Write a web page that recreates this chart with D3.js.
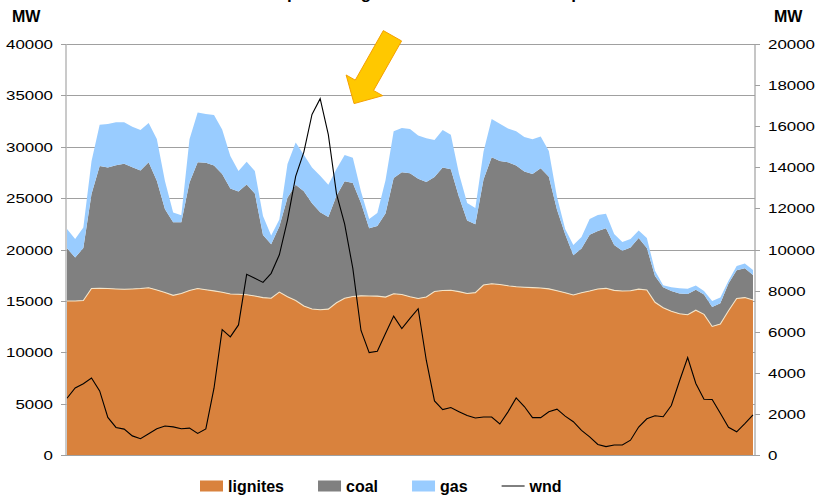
<!DOCTYPE html>
<html>
<head>
<meta charset="utf-8">
<script src="https://cdn.jsdelivr.net/npm/d3@7"></script>
<style>
  body { margin: 0; background: #fff; }
  svg { display: block; font-family: "Liberation Sans", Arial, sans-serif; }
</style>
</head>
<body>
<div id="chart"></div>
<script>
// hourly time axis, one sample every 2 hours over a week
const hours = d3.range(0, 169, 2);

// MW, left axis (stacked)
const lignites = [14990,14990,15040,16200,16220,16200,16160,16130,16160,16200,
  16270,16060,15820,15540,15720,16010,16210,16090,15970,15840,
  15670,15650,15590,15470,15320,15260,15860,15410,15040,14510,
  14210,14130,14200,14820,15260,15430,15490,15480,15460,15370,
  15690,15620,15410,15230,15380,15910,16010,16030,15900,15720,
  15800,16540,16670,16590,16470,16370,16330,16290,16250,16170,
  15980,15790,15570,15790,15960,16160,16220,16020,15960,15980,
  16140,16060,14860,14330,13980,13750,13650,14090,13690,12510,
  12750,14040,15240,15320,15090];
const coal = [5130,4230,5110,9200,11900,11790,12050,12210,11850,11480,
  12210,10630,8100,7110,6920,10510,12270,12360,12210,11500,
  10270,10000,10740,9970,6090,5260,6380,9620,11270,11150,
  10290,9500,8960,10410,11390,11050,9040,6580,6820,8130,
  11270,11890,12020,11650,11200,11140,11980,11770,9210,7110,
  6660,10270,12300,12020,12010,11810,11260,11060,11650,10900,
  7880,5700,3880,4300,5470,5650,5840,4420,3910,4210,
  4980,4090,2570,2000,1980,1960,2010,2000,1930,1900,
  2020,2640,2740,2850,2430];
const gas = [1880,1800,2000,3190,4020,4220,4180,4040,3940,3940,
  3820,4070,2730,940,690,4200,4850,4740,4900,4330,
  3160,2000,2210,2200,1850,850,670,3300,4110,3570,
  3490,3540,3150,2600,2550,2450,1120,900,1280,3240,
  4540,4310,4300,4220,4240,3600,3640,3370,2260,1690,
  1590,2710,3730,3620,3300,3320,3360,3380,3100,2510,
  1250,500,980,1130,1540,1550,1410,1060,860,830,
  720,980,500,200,360,510,510,410,350,580,
  570,280,420,460,490];
// MW, right axis
const wnd = [2760,3260,3470,3750,3120,1830,1340,1260,930,790,
  1030,1280,1410,1370,1280,1310,1050,1270,3250,6100,
  5750,6330,8790,8600,8400,8840,9740,11430,13560,14740,
  16570,17340,15590,12710,11230,9080,6060,4980,5050,5910,
  6760,6150,6650,7120,4600,2630,2210,2310,2110,1920,
  1800,1850,1850,1510,2100,2780,2360,1820,1820,2100,
  2230,1890,1620,1200,880,510,410,490,490,720,
  1360,1760,1910,1860,2410,3600,4740,3480,2710,2700,
  2030,1350,1130,1530,1950];

const leftTicks = [0, 5000, 10000, 15000, 20000, 25000, 30000, 35000, 40000];
const rightTicks = [0, 2000, 4000, 6000, 8000, 10000, 12000, 14000, 16000, 18000, 20000];
const keys = ["lignites", "coal", "gas"];
const title = "Coal output during these hours of the wind peak";

// arrow annotation (hour, left-axis MW)
const arrowTip = { hour: 70.3, mw: 34200 };
const arrowTail = { hour: 79.7, mw: 40800 };

const W = 816, H = 495;
const plot = { left: 67, right: 753, top: 44, bottom: 455 };

const svg = d3.select("#chart").append("svg")
  .attr("width", W)
  .attr("height", H);

const x = d3.scaleLinear().domain([0, 168]).range([plot.left, plot.right]);
const yL = d3.scaleLinear().domain([0, 40000]).range([plot.bottom, plot.top]);
const yR = d3.scaleLinear().domain([0, 20000]).range([plot.bottom, plot.top]);

const color = d3.scaleOrdinal().domain(keys).range(["#D9823D", "#808080", "#99CCFF"]);

// horizontal grid
svg.append("g")
  .selectAll("line")
  .data(leftTicks)
  .join("line")
  .attr("x1", plot.left - 1)
  .attr("x2", plot.right + 2)
  .attr("y1", d => Math.round(yL(d)) + 0.5)
  .attr("y2", d => Math.round(yL(d)) + 0.5)
  .attr("stroke", "#A0A0A0")
  .attr("stroke-width", 1.2);

// stacked areas
const rows = hours.map((h, i) => ({ hour: h, lignites: lignites[i], coal: coal[i], gas: gas[i] }));
const stacked = d3.stack().keys(keys)(rows);

const area = d3.area()
  .x(d => x(d.data.hour))
  .y0(d => yL(d[0]))
  .y1(d => yL(d[1]));

svg.append("g")
  .selectAll("path")
  .data(stacked)
  .join("path")
  .attr("fill", d => color(d.key))
  .attr("d", area);

// light edge on top of lignites
svg.append("path")
  .datum(stacked[0])
  .attr("fill", "none")
  .attr("stroke", "#F4E4C8")
  .attr("stroke-width", 1.1)
  .attr("d", d3.line().x(d => x(d.data.hour)).y(d => yL(d[1])));

// wind line
svg.append("path")
  .datum(wnd)
  .attr("fill", "none")
  .attr("stroke", "#000")
  .attr("stroke-width", 1.1)
  .attr("d", d3.line().x((d, i) => x(hours[i])).y(d => yR(d)));

// axes lines
svg.append("line")
  .attr("x1", plot.left - 1).attr("x2", plot.left - 1)
  .attr("y1", plot.top).attr("y2", plot.bottom)
  .attr("stroke", "#B8B8B8").attr("stroke-width", 1.5);
svg.append("line")
  .attr("x1", plot.right + 2).attr("x2", plot.right + 2)
  .attr("y1", plot.top).attr("y2", plot.bottom)
  .attr("stroke", "#A0A0A0").attr("stroke-width", 1.2);

// left ticks + labels
const lt = svg.append("g").selectAll("g").data(leftTicks).join("g")
  .attr("transform", d => `translate(0, ${Math.round(yL(d)) + 0.5})`);
lt.append("line").attr("x1", plot.left - 6).attr("x2", plot.left - 1).attr("stroke", "#A0A0A0");
lt.append("text")
  .attr("transform", `translate(${plot.left - 14}, 0) scale(1.3, 1)`)
  .attr("text-anchor", "end")
  .attr("dy", "0.35em")
  .style("font-size", "13px")
  .attr("fill", "#000")
  .text(d => d);

// right ticks + labels
const rt = svg.append("g").selectAll("g").data(rightTicks).join("g")
  .attr("transform", d => `translate(0, ${Math.round(yR(d)) + 0.5})`);
rt.append("line").attr("x1", plot.right + 2).attr("x2", plot.right + 7).attr("stroke", "#A0A0A0");
rt.append("text")
  .attr("transform", `translate(${plot.right + 15}, 0) scale(1.3, 1)`)
  .attr("text-anchor", "start")
  .attr("dy", "0.35em")
  .style("font-size", "13px")
  .attr("fill", "#000")
  .text(d => d);

// MW unit labels
svg.append("text").attr("x", 12).attr("y", 22)
  .style("font-size", "16px").style("font-weight", "bold").text("MW");
svg.append("text").attr("x", 774).attr("y", 22)
  .style("font-size", "16px").style("font-weight", "bold").text("MW");

// title: as in the source image, it sits above the top edge and only descenders show
const titleText = svg.append("text")
  .attr("y", -0.8)
  .style("font-size", "17px").style("font-weight", "bold")
  .text(title);
const pIdx = title.indexOf("p");
const pPos = titleText.node().getStartPositionOfChar(pIdx).x;
titleText.attr("x", 287 - pPos);

// arrow annotation
const tip = [x(arrowTip.hour), yL(arrowTip.mw)];
const tail = [x(arrowTail.hour), yL(arrowTail.mw)];
const len = Math.hypot(tip[0] - tail[0], tip[1] - tail[1]);
const u = [(tip[0] - tail[0]) / len, (tip[1] - tail[1]) / len];
const n = [-u[1], u[0]];
const headLen = 21, shaftW = 10.5, headW = 21;
const neck = [tip[0] - u[0] * headLen, tip[1] - u[1] * headLen];
const pt = (p, k) => [p[0] + n[0] * k, p[1] + n[1] * k];
svg.append("path")
  .attr("d", d3.line()([pt(tail, shaftW), pt(neck, shaftW), pt(neck, headW), tip,
    pt(neck, -headW), pt(neck, -shaftW), pt(tail, -shaftW)]) + "Z")
  .attr("fill", "#FFC800")
  .attr("stroke", "#F5A000")
  .attr("stroke-width", 1);

// legend
const legend = svg.append("g").attr("transform", "translate(200, 486)");
let lx = 0;
[...keys, "wnd"].forEach(k => {
  const item = legend.append("g").attr("transform", `translate(${lx}, 0)`);
  if (k === "wnd") {
    item.append("line").attr("x1", 0).attr("x2", 23).attr("y1", 0).attr("y2", 0)
      .attr("stroke", "#000").attr("stroke-width", 1);
  } else {
    item.append("rect").attr("x", 0).attr("y", -5.5).attr("width", 23).attr("height", 11)
      .attr("fill", color(k));
  }
  const t = item.append("text").attr("x", 28).attr("dy", "0.36em")
    .style("font-size", "16px").style("font-weight", "bold").text(k);
  lx += 28 + t.node().getComputedTextLength() + 34;
});
</script>
</body>
</html>
